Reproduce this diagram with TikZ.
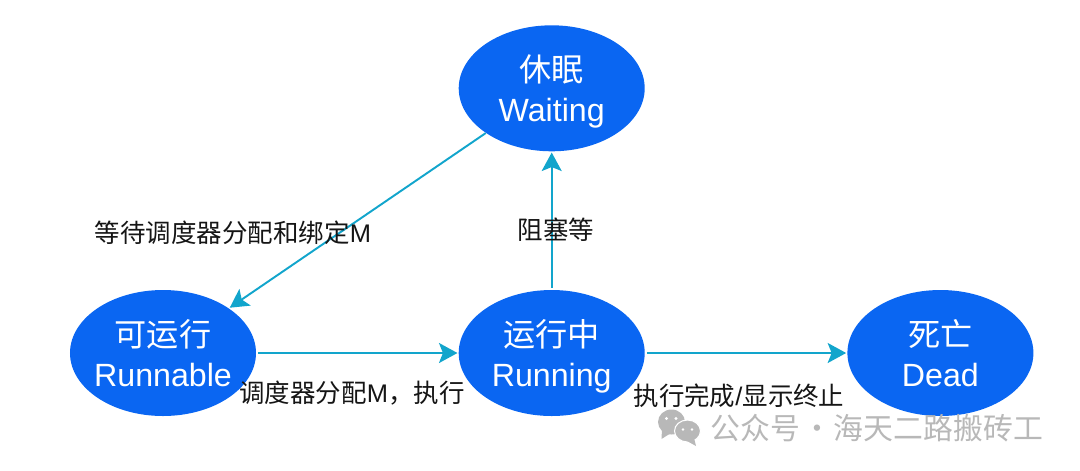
\documentclass[tikz,border=0pt]{standalone}
\usepackage{fontspec}
\usepackage{xcolor}
\usepackage{tikz}
\usetikzlibrary{positioning, arrows.meta, shapes.geometric}
\setmainfont{Liberation Sans}
\newfontfamily\cjk{Noto Sans CJK SC}
\definecolor{stateBlue}{HTML}{0A66F2}
\definecolor{arrowCyan}{HTML}{12A5CC}
\definecolor{markGray} {HTML}{B8B8B8}
\definecolor{labelInk} {HTML}{151515}

\begin{document}
\begin{tikzpicture}[
      node distance=2.76cm and 4.04cm,
      state/.style={ellipse, fill=stateBlue, text=white, inner sep=-8pt,
                    minimum width=3.72cm, minimum height=2.52cm, align=center,
                    font=\fontsize{18.3}{22.7}\selectfont},
      lab/.style={text=labelInk, inner sep=0pt, font=\fontsize{14.5}{18}\selectfont},
      mark text/.style={text=markGray, inner sep=0pt, font=\fontsize{17}{20}\selectfont},
      arr/.style={-{Stealth[length=3.7mm, width=4mm, inset=0.8mm]}, line width=1.1pt,
                  draw=arrowCyan, shorten <=1pt, shorten >=0.5pt}]

    \useasboundingbox (-3.26,-2.34) rectangle (18.34,7.06);

    \node[state] (runnable) at (0,0) {{\cjk 可运行}\\Runnable};
    \node[state, right=of runnable] (running) {{\cjk 运行中}\\\smash{Running}};
    \node[state, right=of running]  (dead)    {{\cjk 死亡}\\Dead};
    \node[state, above=of running]  (waiting) {{\cjk 休眠}\\\smash{Waiting}};

    \draw[arr] (runnable) -- (running);
    \draw[arr] (running)  -- (waiting);
    \draw[arr] (running)  -- (dead);
    \draw[arr, shorten <=0pt] (waiting.south west) -- (runnable.north east);

    \node[lab] (bindLabel)  at (1.4,2.4)    {{\cjk 等待调度器分配和绑定}M};
    \node[lab] (blockLabel) at (7.86,2.46)  {\cjk 阻塞等};
    \node[lab] (schedLabel) at (3.78,-0.8)  {{\cjk 调度器分配}M{\cjk ，执行}};
    \node[lab] (doneLabel)  at (11.52,-0.86) {{\cjk 执行完成}/{\cjk 显示终止}};

    % watermark
    \fill[markGray] (10.17,-1.38) ellipse (0.27 and 0.25);
    \fill[markGray] (9.98,-1.52) -- (9.97,-1.72) -- (10.16,-1.6) -- cycle;
    \fill[markGray, draw=white, line width=0.6pt] (10.49,-1.56) ellipse (0.26 and 0.22);
    \fill[markGray] (10.62,-1.7) -- (10.66,-1.86) -- (10.48,-1.76) -- cycle;
    \foreach \dotx/\doty in {10.07/-1.31, 10.26/-1.31}
      \fill[white] (\dotx,\doty) circle (0.032);
    \foreach \dotx/\doty in {10.4/-1.53, 10.58/-1.53}
      \fill[white] (\dotx,\doty) circle (0.028);
    \node[mark text] (markLabel) at (14.28,-1.5) {\cjk 公众号\kern1pt·\kern1pt海天二路搬砖工};
  \end{tikzpicture}
\end{document}
